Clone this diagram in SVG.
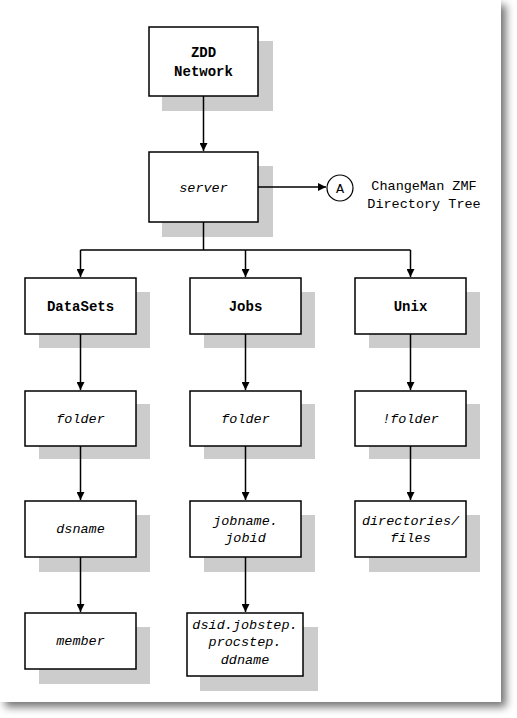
<svg xmlns="http://www.w3.org/2000/svg" width="517" height="718" viewBox="0 0 517 718">
<style>
.box{fill:#fff;stroke:#000;stroke-width:1.5}
.sh{fill:#cccccc}
.t{font-family:"Liberation Mono","Courier New",monospace;font-size:13.5px;fill:#000;text-anchor:middle}
.b{font-weight:bold;font-size:14px}
.i{font-style:italic}
.ln{fill:none;stroke:#000;stroke-width:1.5}
</style>
<defs>
<filter id="pg" x="-5%" y="-5%" width="115%" height="115%">
<feDropShadow dx="5" dy="5" stdDeviation="4" flood-color="#000" flood-opacity="0.55"/>
</filter>
<marker id="ah" markerWidth="8" markerHeight="8" refX="8" refY="4" orient="auto" markerUnits="userSpaceOnUse">
<path d="M0,0 L8,4 L0,8 Z" fill="#000"/>
</marker>
</defs>
<rect width="517" height="718" fill="#fff"/>
<rect x="0" y="0" width="501" height="702" fill="#fff" filter="url(#pg)"/>

<g id="zdd">
<rect class="sh" x="162" y="41" width="111" height="70"/>
<rect class="box" x="149" y="27" width="109" height="69"/>
<text class="t b" x="203.5" y="57">ZDD</text>
<text class="t b" x="203.5" y="76">Network</text>
</g>
<g id="server">
<rect class="sh" x="162" y="166" width="111" height="71"/>
<rect class="box" x="149" y="152" width="109" height="70"/>
<text class="t i" x="203.5" y="192">server</text>
</g>
<g id="connA">
<circle cx="340" cy="188" r="13" fill="#fff" stroke="#000" stroke-width="1.2"/>
<text class="t" x="340" y="192.5">A</text>
<text class="t" x="424" y="190">ChangeMan ZMF</text>
<text class="t" x="424" y="208">Directory Tree</text>
</g>

<g id="datasets">
<rect class="sh" x="39" y="292" width="111" height="56"/>
<rect class="box" x="25" y="278" width="111" height="56"/>
<text class="t b" x="80.5" y="311">DataSets</text>
</g>
<g id="jobs">
<rect class="sh" x="204" y="292" width="111" height="56"/>
<rect class="box" x="190" y="278" width="111" height="56"/>
<text class="t b" x="245.5" y="311">Jobs</text>
</g>
<g id="unix">
<rect class="sh" x="369" y="292" width="111" height="56"/>
<rect class="box" x="355" y="278" width="111" height="56"/>
<text class="t b" x="410.5" y="311">Unix</text>
</g>

<g id="folder1">
<rect class="sh" x="39" y="404" width="111" height="55"/>
<rect class="box" x="25" y="391" width="111" height="55"/>
<text class="t i" x="80.5" y="423">folder</text>
</g>
<g id="folder2">
<rect class="sh" x="204" y="404" width="111" height="55"/>
<rect class="box" x="190" y="391" width="111" height="55"/>
<text class="t i" x="245.5" y="423">folder</text>
</g>
<g id="folder3">
<rect class="sh" x="369" y="404" width="111" height="55"/>
<rect class="box" x="355" y="391" width="111" height="55"/>
<text class="t i" x="410.5" y="423">!folder</text>
</g>

<g id="dsname">
<rect class="sh" x="39" y="515" width="111" height="57"/>
<rect class="box" x="25" y="501" width="111" height="56"/>
<text class="t i" x="80.5" y="533">dsname</text>
</g>
<g id="jobname">
<rect class="sh" x="204" y="515" width="111" height="57"/>
<rect class="box" x="190" y="501" width="111" height="56"/>
<text class="t i" x="245.5" y="525">jobname.</text>
<text class="t i" x="245.5" y="542">jobid</text>
</g>
<g id="dirs">
<rect class="sh" x="369" y="515" width="111" height="57"/>
<rect class="box" x="355" y="501" width="111" height="56"/>
<text class="t i" x="410.5" y="525">directories/</text>
<text class="t i" x="410.5" y="542">files</text>
</g>

<g id="member">
<rect class="sh" x="39" y="627" width="111" height="57"/>
<rect class="box" x="25" y="613" width="111" height="56"/>
<text class="t i" x="80.5" y="645">member</text>
</g>
<g id="dsid">
<rect class="sh" x="200" y="627" width="118" height="64"/>
<rect class="box" x="187" y="613" width="116" height="63"/>
<text class="t i" x="245" y="629">dsid.jobstep.</text>
<text class="t i" x="245" y="646">procstep.</text>
<text class="t i" x="245" y="664">ddname</text>
</g>

<g id="connectors">
<path class="ln" d="M203.5,96 V151" marker-end="url(#ah)"/>
<path class="ln" d="M258,187 H326" marker-end="url(#ah)"/>
<path class="ln" d="M203.5,222 V250 M80.5,250 H410.5"/>
<path class="ln" d="M80.5,250 V277" marker-end="url(#ah)"/>
<path class="ln" d="M245.5,250 V277" marker-end="url(#ah)"/>
<path class="ln" d="M410.5,250 V277" marker-end="url(#ah)"/>
<path class="ln" d="M80.5,334 V390" marker-end="url(#ah)"/>
<path class="ln" d="M245.5,334 V390" marker-end="url(#ah)"/>
<path class="ln" d="M410.5,334 V390" marker-end="url(#ah)"/>
<path class="ln" d="M80.5,446 V500" marker-end="url(#ah)"/>
<path class="ln" d="M245.5,446 V500" marker-end="url(#ah)"/>
<path class="ln" d="M410.5,446 V500" marker-end="url(#ah)"/>
<path class="ln" d="M80.5,557 V612" marker-end="url(#ah)"/>
<path class="ln" d="M245.5,557 V612" marker-end="url(#ah)"/>
</g>
</svg>
